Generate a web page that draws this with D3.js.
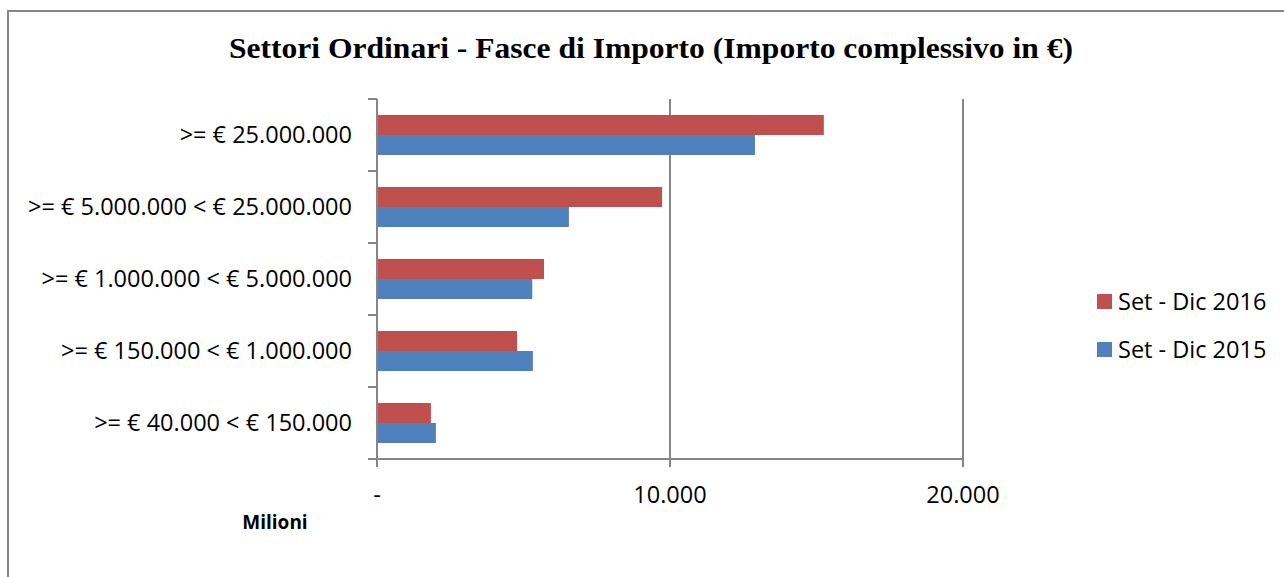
<!DOCTYPE html>
<html>
<head>
<meta charset="utf-8">
<script src="https://cdn.jsdelivr.net/npm/d3@7"></script>
<style>
  body { margin: 0; background: #fff; }
  svg { display: block; }
</style>
</head>
<body>
<div id="chart"><svg></svg></div>
<script>
const categories = [
  ">= € 25.000.000",
  ">= € 5.000.000 < € 25.000.000",
  ">= € 1.000.000 < € 5.000.000",
  ">= € 150.000 < € 1.000.000",
  ">= € 40.000 < € 150.000"
];
const seriesNames = ["Set - Dic 2016", "Set - Dic 2015"];
const values2016 = [15250, 9730, 5700, 4780, 1840];
const values2015 = [12900, 6550, 5300, 5320, 2010];
const tickValues = [0, 10000, 20000];
const tickLabels = ["-", "10.000", "20.000"];
const colors = ["#C0504D", "#4F81BD"];

const W = 1284, H = 577;
const margin = { top: 99, right: 321, bottom: 118, left: 377 };
const width = W - margin.left - margin.right;
const height = H - margin.top - margin.bottom;
const font = "'Open Sans', Lato, sans-serif";
const labelSize = 23.5;

const svg = d3.select("#chart > svg").attr("width", W).attr("height", H);

// outer border (cut off at right/bottom like the original)
svg.append("rect")
  .attr("x", 8).attr("y", 11)
  .attr("width", W + 10).attr("height", H + 10)
  .attr("fill", "none").attr("stroke", "#868686").attr("stroke-width", 2);

svg.append("text")
  .attr("x", 651).attr("y", 58)
  .attr("text-anchor", "middle")
  .attr("font-family", "'Liberation Serif', 'DejaVu Serif', serif")
  .attr("font-weight", "bold")
  .attr("font-size", 29)
  .attr("textLength", 844)
  .attr("lengthAdjust", "spacingAndGlyphs")
  .attr("fill", "#000")
  .text("Settori Ordinari - Fasce di Importo (Importo complessivo in €)");

const g = svg.append("g").attr("transform", `translate(${margin.left},${margin.top})`);

const x = d3.scaleLinear().domain([0, 20000]).range([0, width]);
const y = d3.scaleBand().domain(categories).range([0, height]).paddingInner(0.444).paddingOuter(0.222);
const sub = d3.scaleBand().domain(seriesNames).range([0, y.bandwidth()]);

// gridlines
g.selectAll(".grid")
  .data(tickValues.slice(1))
  .enter().append("line")
  .attr("x1", d => x(d)).attr("x2", d => x(d))
  .attr("y1", 0).attr("y2", height)
  .attr("stroke", "#868686").attr("stroke-width", 2);

const data = categories.map((c, i) => ({ cat: c, vals: [values2016[i], values2015[i]] }));

const rows = g.selectAll(".row").data(data).enter().append("g")
  .attr("transform", d => `translate(0,${y(d.cat)})`);

rows.selectAll("rect")
  .data(d => d.vals.map((v, k) => ({ v, k })))
  .enter().append("rect")
  .attr("x", 0)
  .attr("y", d => sub(seriesNames[d.k]))
  .attr("width", d => x(d.v))
  .attr("height", sub.bandwidth())
  .attr("fill", d => colors[d.k]);

// y axis
const yAxisG = g.append("g");
yAxisG.append("line")
  .attr("x1", 0).attr("x2", 0).attr("y1", 0).attr("y2", height)
  .attr("stroke", "#868686").attr("stroke-width", 2);
const step = height / categories.length;
yAxisG.selectAll(".yt")
  .data(d3.range(categories.length + 1))
  .enter().append("line")
  .attr("x1", -9).attr("x2", 0)
  .attr("y1", i => i * step).attr("y2", i => i * step)
  .attr("stroke", "#868686").attr("stroke-width", 2);
yAxisG.selectAll(".yl")
  .data(categories)
  .enter().append("text")
  .attr("x", -25)
  .attr("y", d => y(d) + y.bandwidth() / 2)
  .attr("dy", "0.35em")
  .attr("text-anchor", "end")
  .attr("font-family", font)
  .attr("font-size", labelSize)
  .attr("fill", "#000")
  .text(d => d);

// x axis
const xAxisG = g.append("g").attr("transform", `translate(0,${height})`);
xAxisG.append("line")
  .attr("x1", 0).attr("x2", width).attr("y1", 0).attr("y2", 0)
  .attr("stroke", "#868686").attr("stroke-width", 2);
xAxisG.selectAll(".xt")
  .data(tickValues)
  .enter().append("line")
  .attr("x1", d => x(d)).attr("x2", d => x(d))
  .attr("y1", 0).attr("y2", 8)
  .attr("stroke", "#868686").attr("stroke-width", 2);
xAxisG.selectAll(".xl")
  .data(tickValues)
  .enter().append("text")
  .attr("x", d => x(d))
  .attr("y", 44)
  .attr("text-anchor", "middle")
  .attr("font-family", font)
  .attr("font-size", labelSize)
  .attr("fill", "#000")
  .text((d, i) => tickLabels[i]);

svg.append("text")
  .attr("x", 275).attr("y", 529)
  .attr("text-anchor", "middle")
  .attr("font-family", font)
  .attr("font-weight", "bold")
  .attr("font-size", 19)
  .attr("fill", "#000")
  .text("Milioni");

// legend
const legend = svg.append("g").attr("transform", "translate(1097,294)");
const li = legend.selectAll("g").data(seriesNames).enter().append("g")
  .attr("transform", (d, i) => `translate(0,${i * 48})`);
li.append("rect").attr("width", 15).attr("height", 15).attr("fill", (d, i) => colors[i]);
li.append("text")
  .attr("x", 21).attr("y", 8).attr("dy", "0.35em")
  .attr("font-family", font)
  .attr("font-size", labelSize)
  .attr("fill", "#000")
  .text(d => d);
</script>
</body>
</html>
